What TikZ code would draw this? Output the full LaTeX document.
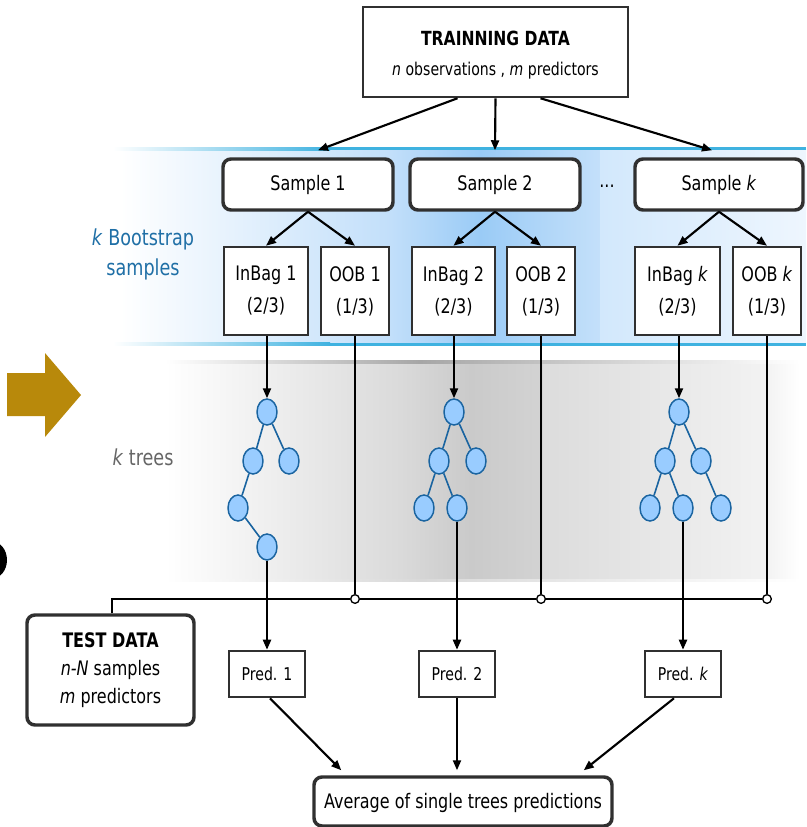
\documentclass[tikz,border=0pt]{standalone}
\usepackage{fontspec}
\setmainfont[FakeStretch=0.8]{DejaVu Sans}
\usetikzlibrary{fit,arrows.meta,calc,shapes.geometric}
\definecolor{nodeblue}{HTML}{99CCFF}
\definecolor{edgeblue}{HTML}{1A64A0}
\definecolor{textblue}{HTML}{1F6FA6}
\definecolor{goldarrow}{HTML}{B8890B}
\definecolor{bandline}{HTML}{3FB2E0}
\definecolor{blueA}{HTML}{C2DFFA}
\definecolor{blueB}{HTML}{9ACBF6}
\definecolor{blueC}{HTML}{C4E0FA}
\definecolor{blueD}{HTML}{D2E8FC}
\definecolor{blueE}{HTML}{EEF6FE}
\definecolor{grayA}{HTML}{DADADA}
\definecolor{grayB}{HTML}{CACACA}
\definecolor{grayC}{HTML}{D3D3D3}
\definecolor{grayD}{HTML}{DCDCDC}
\definecolor{grayE}{HTML}{F2F2F2}
\definecolor{boxline}{HTML}{303030}
\tikzset{
  sqbox/.style={draw=boxline, line width=1.9pt, fill=white, inner sep=0pt, align=center},
  rbox/.style={draw=boxline, line width=2.6pt, fill=white, inner sep=0pt, align=center, rounded corners=6pt},
  conn/.style={line width=1.6pt, draw=black},
  arr/.style={conn, -{Triangle[length=7.5pt,width=6pt]}},
  tnode/.style={ellipse, draw=edgeblue, fill=nodeblue, line width=1.1pt, minimum width=15pt, minimum height=19.5pt, inner sep=0pt},
  tedge/.style={draw=edgeblue, line width=1.2pt},
  junc/.style={circle, draw=black, fill=white, line width=1pt, minimum size=6.5pt, inner sep=0pt},
  fsamp/.style={font=\fontsize{15}{24}\selectfont},
  fpred/.style={font=\fontsize{13.2}{16}\selectfont},
  fside/.style={font=\fontsize{16.5}{22.5}\selectfont}
}
\begin{document}
\begin{tikzpicture}[x=0.75pt,y=-0.75pt]
\useasboundingbox (0,0) rectangle (806,827);
\begin{scope}
\clip (0,0) rectangle (806,827);
% blue band
\shade[left color=white, right color=blueA] (120,149) rectangle (391,344);
\shade[left color=blueA, right color=blueB] (390,149) rectangle (481,344);
\shade[left color=blueB, right color=blueC] (480,149) rectangle (601,344);
\shade[left color=blueD, right color=blueE] (600,149) rectangle (806,344);
\shade[left color=white, right color=bandline] (113,147.5) rectangle (330,150.5);
\fill[bandline] (329,147.5) rectangle (806,150.5);
\shade[left color=white, right color=bandline] (113,342.5) rectangle (330,345.5);
\fill[bandline] (329,342.5) rectangle (806,345.5);
% gray band
\shade[left color=white, right color=grayA] (165,362) rectangle (401,580);
\shade[left color=grayA, right color=grayB] (400,362) rectangle (471,580);
\shade[left color=grayB, right color=grayC] (470,362) rectangle (544,580);
\shade[left color=grayD, right color=grayE] (543,362) rectangle (766,580);
\shade[left color=grayE, right color=white] (765,362) rectangle (800,580);
\shade[left color=white, right color=black!35] (165,360.5) rectangle (420,363);
\shade[left color=black!35, right color=white] (419,360.5) rectangle (800,363);
\shade[left color=white, right color=black!15] (165,579) rectangle (420,581.5);
\shade[left color=black!15, right color=white] (419,579) rectangle (800,581.5);
% gold arrow
\fill[goldarrow] (7,373) -- (45,373) -- (45,353) -- (81,395) -- (45,437) -- (45,416) -- (7,416) -- cycle;
% black blob at left edge
\fill[black] (-9,560) ellipse [x radius=16, y radius=19];
\end{scope}

% side labels
\node[fside, text=textblue, align=center] (lblboot) at (143,254) {\textit{k} Bootstrap\\samples};
\node[fside, text=black!60] (lbltrees) at (143,457) {\textit{k} trees};

% training data
\node[sqbox, fit={(363,7) (628,97)}] (train) {};
\node[align=center, font=\fontsize{13.2}{22.5}\selectfont] (traintxt) at (495.5,55) {{\fontsize{14.6}{22.5}\selectfont\bfseries TRAINNING DATA}\\\textit{n} observations , \textit{m} predictors};

% samples
\node[rbox, fsamp, fit={(223,159) (393,210)}] (s1) {};
\node[fsamp] at (s1) {Sample 1};
\node[rbox, fsamp, fit={(410,159) (580,210)}] (s2) {};
\node[fsamp] at (s2) {Sample 2};
\node[rbox, fsamp, fit={(635,159) (803,210)}] (sk) {};
\node[fsamp] at (sk) {Sample \textit{k}};
\node[fsamp] (dots) at (607,186) {...};

% inbag / oob
\node[sqbox, fit={(224,247) (308,335)}] (ib1) {};
\node[fsamp, align=center] at (ib1) {InBag 1\\(2/3)};
\node[sqbox, fit={(321,247) (389,335)}] (oob1) {};
\node[fsamp, align=center] at (oob1) {OOB 1\\(1/3)};
\node[sqbox, fit={(412,247) (495,335)}] (ib2) {};
\node[fsamp, align=center] at (ib2) {InBag 2\\(2/3)};
\node[sqbox, fit={(507,247) (575,335)}] (oob2) {};
\node[fsamp, align=center] at (oob2) {OOB 2\\(1/3)};
\node[sqbox, fit={(635,247) (720,335)}] (ibk) {};
\node[fsamp, align=center] at (ibk) {InBag \textit{k}\\(2/3)};
\node[sqbox, fit={(733,247) (801,335)}] (oobk) {};
\node[fsamp, align=center] at (oobk) {OOB \textit{k}\\(1/3)};

% training -> samples
\draw[arr] ($(train.south)+(-38,0)$) -- ($(s1.north)+(10,-7)$);
\draw[arr] (train.south) -- ($(s2.north)+(0,-7)$);
\draw[arr] ($(train.south)+(45,0)$) -- ($(sk.north)+(-7,-7)$);

% samples -> inbag/oob
\draw[arr] (s1.south) -- (ib1.north);
\draw[arr] (s1.south) -- (oob1.north);
\draw[arr] (s2.south) -- (ib2.north);
\draw[arr] (s2.south) -- (oob2.north);
\draw[arr] (sk.south) -- (ibk.north);
\draw[arr] (sk.south) -- (oobk.north);

% trees
\node[tnode] (r1) at (267,412) {};
\node[tnode] (a1) at (253,461) {};
\node[tnode] (b1) at (289,461) {};
\node[tnode] (c1) at (238,508) {};
\node[tnode] (d1) at (267,547) {};
\draw[tedge] (r1) -- (a1) (r1) -- (b1) (a1) -- (c1) (c1) -- (d1);

\node[tnode] (r2) at (454,412) {};
\node[tnode] (a2) at (439,461) {};
\node[tnode] (b2) at (476,461) {};
\node[tnode] (c2) at (424,508) {};
\node[tnode] (d2) at (457,508) {};
\draw[tedge] (r2) -- (a2) (r2) -- (b2) (a2) -- (c2) (a2) -- (d2);

\node[tnode] (r3) at (679,412) {};
\node[tnode] (a3) at (665,461) {};
\node[tnode] (b3) at (701,461) {};
\node[tnode] (c3) at (650,508) {};
\node[tnode] (d3) at (683,508) {};
\node[tnode] (e3) at (721,508) {};
\draw[tedge] (r3) -- (a3) (r3) -- (b3) (a3) -- (c3) (a3) -- (d3) (b3) -- (e3);

% inbag -> roots
\draw[arr] (ib1.south -| r1.north) -- (r1.north);
\draw[arr] (ib2.south -| r2.north) -- (r2.north);
\draw[arr] (ibk.south -| r3.north) -- (r3.north);

% test data
\node[rbox, fit={(27,615) (194,725)}] (test) {};
\node[align=center, font=\fontsize{15}{21}\selectfont] at (110.5,670) {{\bfseries TEST DATA}\\\textit{n-N} samples\\\textit{m} predictors};

% junctions and OOB lines
\coordinate (hl) at (112,599);
\node[junc] (j1) at (355,599) {};
\node[junc] (j2) at (541,599) {};
\node[junc] (j3) at (767,599) {};
\draw[conn] (test.north -| hl) -- (hl) -- (j1) -- (j2) -- (j3);
\draw[conn] (oob1.south) -- (j1);
\draw[conn] (oob2.south) -- (j2);
\draw[conn] (oobk.south) -- (j3);

% predictions
\node[sqbox, fit={(229,651) (305,697)}] (p1) {};
\node[fpred] at (p1) {Pred. 1};
\node[sqbox, fit={(419,651) (495,697)}] (p2) {};
\node[fpred] at (p2) {Pred. 2};
\node[sqbox, fit={(645,651) (721,697)}] (pk) {};
\node[fpred] at (pk) {Pred. \textit{k}};

\draw[arr] (d1.south) -- (p1.north);
\draw[arr] (d2.south) -- (p2.north);
\draw[arr] (d3.south) -- (pk.north);

% average
\node[rbox, fit={(314,777) (612,826)}] (avg) {};
\node[fsamp] at ($(avg)+(0,1)$) {Average of single trees predictions};

\draw[arr] ($(p1.south)+(3,0)$) -- ($(avg.north west)+(29,-5)$);
\draw[arr] (p2.south) -- ($(p2.south |- avg.north)+(0,-5)$);
\draw[arr] ($(pk.south)+(-9,0)$) -- ($(avg.north east)+(-30,-5)$);
\end{tikzpicture}
\end{document}
